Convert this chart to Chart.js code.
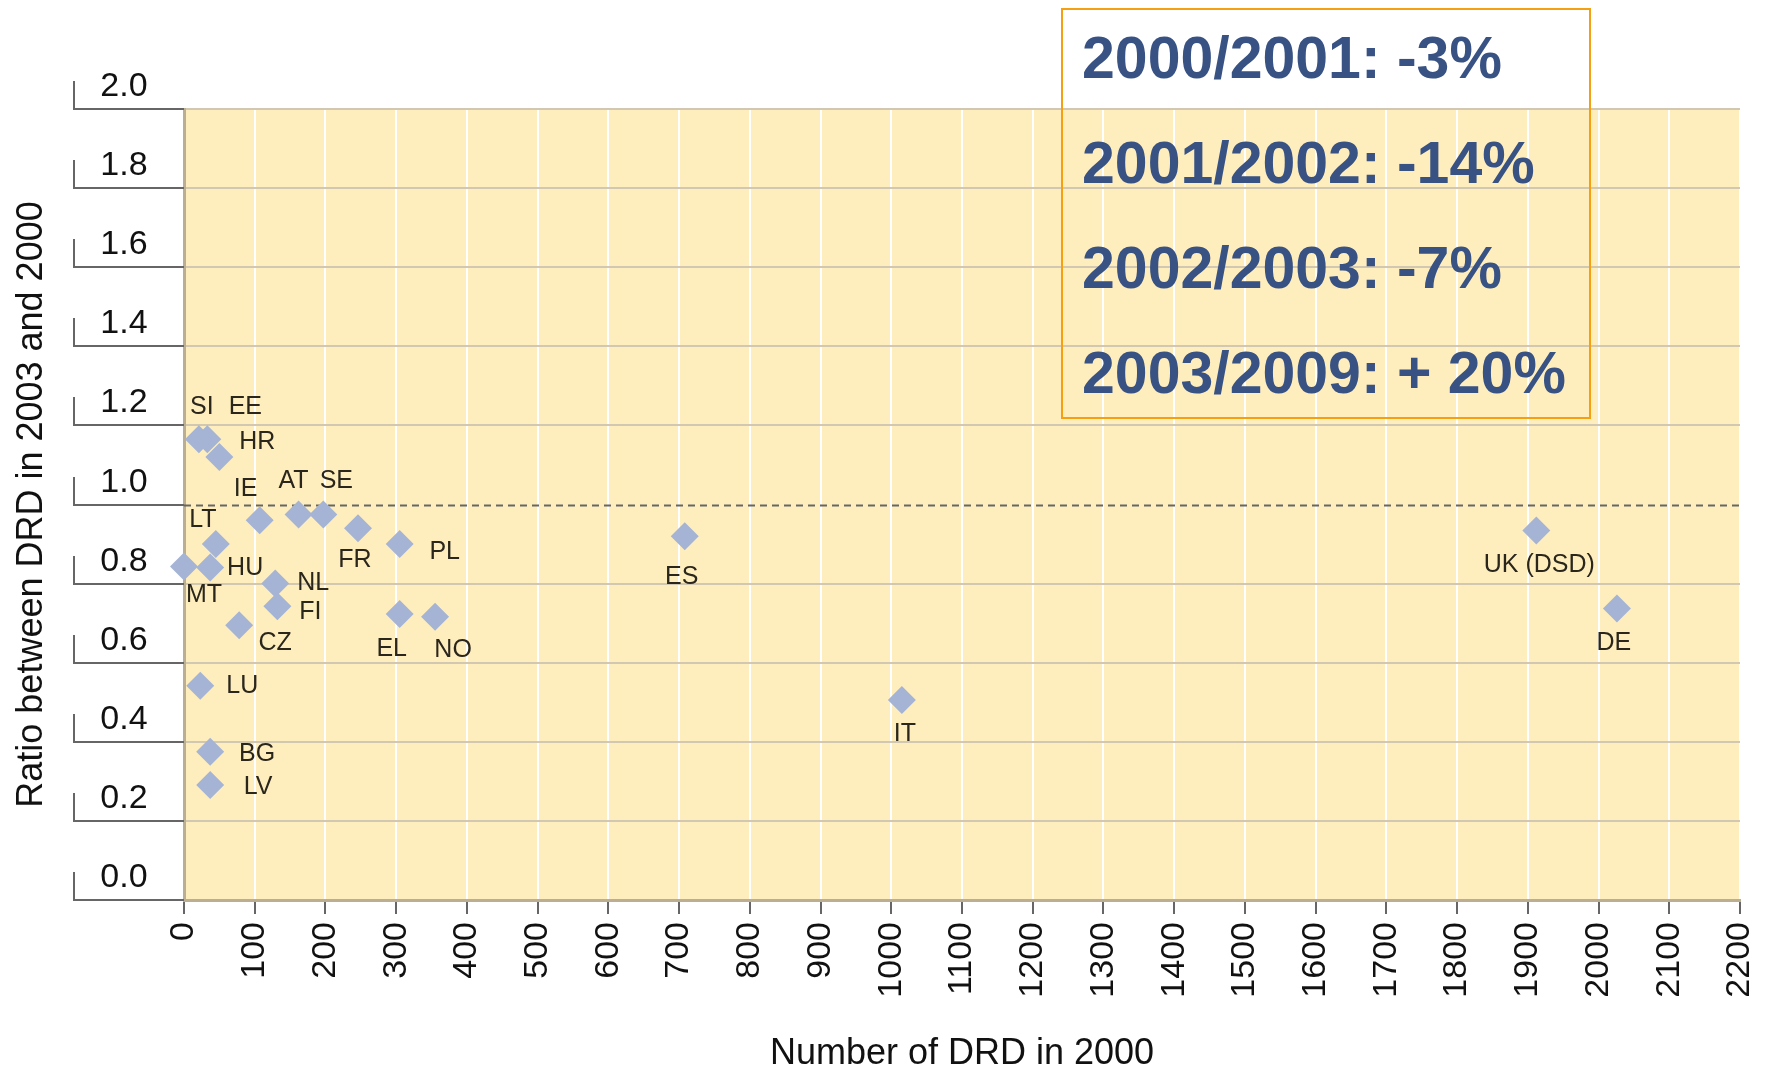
<!DOCTYPE html>
<html>
<head>
<meta charset="utf-8">
<title>Ratio between DRD in 2003 and 2000</title>
<script src="https://cdn.jsdelivr.net/npm/chart.js@4.4.0/dist/chart.umd.min.js"></script>
<style>
  html, body { margin: 0; padding: 0; background: #fff; }
  canvas { display: block; }
</style>
</head>
<body>
<canvas id="myChart" width="1773" height="1072"></canvas>
<script>
const countries = ["SI", "EE", "HR", "IE", "AT", "SE", "FR", "PL", "LT", "MT", "HU", "NL",
  "FI", "CZ", "EL", "NO", "LU", "BG", "LV", "ES", "IT", "UK (DSD)", "DE"];
const drd2000 = [21, 33, 50, 107, 162, 197, 246, 305, 45, 0, 37, 129,
  132, 78, 305, 355, 23, 37, 37, 708, 1015, 1912, 2026];
const ratio = [1.165, 1.165, 1.12, 0.96, 0.975, 0.975, 0.94, 0.90, 0.90, 0.843, 0.841, 0.80,
  0.743, 0.695, 0.723, 0.716, 0.542, 0.375, 0.291, 0.92, 0.506, 0.934, 0.737];

const yTickValues = [0, 0.2, 0.4, 0.6, 0.8, 1.0, 1.2, 1.4, 1.6, 1.8, 2.0];
const yTickLabels = ["0.0", "0.2", "0.4", "0.6", "0.8", "1.0", "1.2", "1.4", "1.6", "1.8", "2.0"];

const changes = ["2000/2001: -3%", "2001/2002: -14%", "2002/2003: -7%", "2003/2009: + 20%"];

// where each country code sits relative to its diamond (px)
const labelDx = [3, 38, 38, -14, -5, 13, -3, 45, -13, 20, 35, 38, 33, 36, -8, 18, 42, 47, 48, -3, 3, 3, -3];
const labelDy = [-32, -32, -15, -31, -33, -33, 32, 8, -24, 29, 1, 0, 6, 18, 35, 33, 0, 2, 2, 41, 34, 35, 35];

const FONT = '"Liberation Sans", Arial, sans-serif';
Chart.defaults.font.family = FONT;

const plotBg = {
  id: 'plotBg',
  beforeDraw(chart) {
    const {ctx, chartArea: a} = chart;
    ctx.save();
    ctx.fillStyle = '#ffeebd';
    ctx.fillRect(a.left, a.top, a.right - a.left, a.bottom - a.top);
    ctx.restore();
  },
  beforeDatasetsDraw(chart) {
    // dashed reference line at ratio 1.0
    const {ctx, chartArea: a} = chart;
    const py = Math.round(chart.scales.y.getPixelForValue(1)) + 0.5;
    ctx.save();
    ctx.strokeStyle = '#666';
    ctx.lineWidth = 2;
    ctx.setLineDash([7, 5]);
    ctx.beginPath();
    ctx.moveTo(a.left, py);
    ctx.lineTo(a.right, py);
    ctx.stroke();
    ctx.restore();
  },
  afterDatasetsDraw(chart) {
    const {ctx} = chart;
    const meta = chart.getDatasetMeta(0);
    ctx.save();
    ctx.font = '25px ' + FONT;
    ctx.fillStyle = '#2a261c';
    ctx.textAlign = 'center';
    ctx.textBaseline = 'middle';
    meta.data.forEach((pt, i) => {
      ctx.fillText(countries[i], pt.x + labelDx[i], pt.y + labelDy[i]);
    });
    ctx.restore();
  },
  afterDraw(chart) {
    const {ctx, chartArea: a} = chart;
    const ys = chart.scales.y;
    ctx.save();
    // the odd bracket-shaped y ticks with the value sitting on top
    ctx.strokeStyle = '#666';
    ctx.lineWidth = 2;
    ctx.font = '34px ' + FONT;
    ctx.fillStyle = '#111';
    ctx.textAlign = 'center';
    ctx.textBaseline = 'alphabetic';
    yTickValues.forEach((v, i) => {
      const py = Math.round(ys.getPixelForValue(v));
      ctx.beginPath();
      ctx.moveTo(74, py - 28);
      ctx.lineTo(74, py);
      ctx.lineTo(a.left, py);
      ctx.stroke();
      ctx.fillText(yTickLabels[i], 124, py - 13);
    });

    // summary box
    ctx.strokeStyle = '#f5a011';
    ctx.lineWidth = 2;
    ctx.strokeRect(1062, 9, 528, 409);
    ctx.font = 'bold 59px ' + FONT;
    ctx.fillStyle = '#385284';
    ctx.textAlign = 'left';
    ctx.textBaseline = 'middle';
    changes.forEach((t, i) => ctx.fillText(t, 1082, 62 + i * 105));
    ctx.restore();
  }
};

const data = {
  datasets: [{
    data: drd2000.map((x, i) => ({x: x, y: ratio[i]})),
    pointStyle: 'rectRot',
    pointRadius: 14,
    pointHoverRadius: 14,
    backgroundColor: '#a5b4d5',
    borderWidth: 0,
    clip: false
  }]
};

const config = {
  type: 'scatter',
  data: data,
  plugins: [plotBg],
  options: {
    responsive: false,
    animation: false,
    layout: { padding: { top: 109, right: 33, bottom: 0, left: 0 } },
    plugins: {
      legend: { display: false },
      tooltip: { enabled: false }
    },
    scales: {
      x: {
        type: 'linear',
        min: 0,
        max: 2200,
        afterFit(s) { s.height = 172; s.paddingLeft = 0; s.paddingRight = 0; },
        ticks: {
          stepSize: 100,
          autoSkip: false,
          minRotation: 90,
          maxRotation: 90,
          padding: 8,
          color: '#111',
          font: { size: 34 },
          callback: v => String(v)
        },
        grid: {
          color: c => c.tick && c.tick.value === 0 ? 'rgba(0,0,0,0)' : '#ffffff',
          lineWidth: 2,
          tickColor: '#666',
          tickWidth: 2,
          tickLength: 14
        },
        border: { color: '#bcae90', width: 3 },
        title: {
          display: true,
          text: 'Number of DRD in 2000',
          color: '#111',
          font: { size: 36, lineHeight: 1 },
          padding: 0
        }
      },
      y: {
        type: 'linear',
        min: 0,
        max: 2,
        afterFit(s) { s.width = 184; },
        ticks: { display: false, stepSize: 0.2 },
        grid: {
          color: c => {
            const v = c.tick ? c.tick.value : -1;
            return (v === 0 || Math.abs(v - 1) < 1e-6) ? 'rgba(0,0,0,0)' : '#d2c7b0';
          },
          lineWidth: 2,
          drawTicks: false
        },
        border: { color: '#bcae90', width: 3 },
        title: {
          display: true,
          text: 'Ratio between DRD in 2003 and 2000',
          color: '#111',
          font: { size: 36, lineHeight: 1.2 },
          padding: { top: 10, bottom: 0 }
        }
      }
    }
  }
};

const myChart = new Chart(document.getElementById('myChart'), config);
</script>
</body>
</html>
